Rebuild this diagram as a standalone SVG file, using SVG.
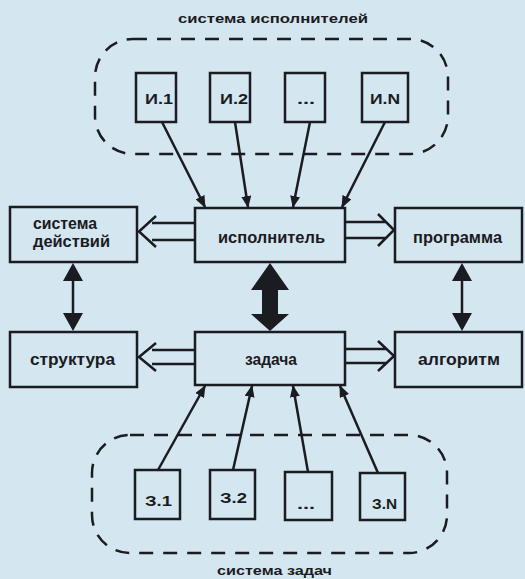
<svg xmlns="http://www.w3.org/2000/svg" width="525" height="579" viewBox="0 0 525 579">
<defs>
<style>
.bg{fill:#d4e6f0}
.box{fill:#d4e6f0;stroke:#1b1b22;stroke-width:2.5}
.grp{fill:none;stroke:#1b1b22;stroke-width:2.5;stroke-dasharray:14 10}
.t{font-family:"Liberation Sans",Arial,sans-serif;font-weight:bold;fill:#1b1b22;font-size:16px}
.s{font-family:"Liberation Sans",Arial,sans-serif;font-weight:bold;fill:#1b1b22;font-size:15px}
.lbl{font-family:"Liberation Sans",Arial,sans-serif;font-weight:bold;fill:#1b1b22;font-size:13px}
.ln{stroke:#1b1b22;stroke-width:2.5;fill:none}
.hol{stroke:#1b1b22;stroke-width:2.5;fill:none;stroke-linejoin:miter}
</style>
<marker id="ah" viewBox="0 0 12 10" refX="11" refY="5" markerWidth="12" markerHeight="10" markerUnits="userSpaceOnUse" orient="auto">
<path d="M0,0 L12,5 L0,10 z" fill="#1b1b22"/>
</marker>
</defs>
<rect class="bg" x="0" y="0" width="525" height="579"/>

<g id="group-performers">
<rect class="grp" x="95" y="39" width="353" height="115" rx="38" ry="38"/>
<text class="lbl" x="178" y="23" textLength="190" lengthAdjust="spacingAndGlyphs">система исполнителей</text>
</g>
<g id="group-tasks">
<rect class="grp" x="92" y="435" width="355" height="118" rx="38" ry="38"/>
<text class="lbl" x="217" y="575" textLength="115" lengthAdjust="spacingAndGlyphs">система задач</text>
</g>

<g id="I1"><rect class="box" x="136" y="73" width="40" height="49"/><text class="s" x="145" y="104" textLength="28" lengthAdjust="spacingAndGlyphs">И.1</text></g>
<g id="I2"><rect class="box" x="210" y="73" width="40" height="49"/><text class="s" x="220" y="104" textLength="28" lengthAdjust="spacingAndGlyphs">И.2</text></g>
<g id="Idots"><rect class="box" x="285" y="73" width="40" height="49"/><text class="s" x="297" y="104" textLength="18" lengthAdjust="spacingAndGlyphs">...</text></g>
<g id="IN"><rect class="box" x="362" y="73" width="46" height="49"/><text class="s" x="370" y="104" textLength="30" lengthAdjust="spacingAndGlyphs">И.N</text></g>

<g id="actions"><rect class="box" x="10" y="207" width="127" height="55"/>
<text class="t" x="33" y="229" textLength="64" lengthAdjust="spacingAndGlyphs">система</text><text class="t" x="33" y="247" textLength="77" lengthAdjust="spacingAndGlyphs">действий</text></g>
<g id="performer"><rect class="box" x="195" y="208" width="150" height="54"/><text class="t" x="218" y="243" textLength="107" lengthAdjust="spacingAndGlyphs">исполнитель</text></g>
<g id="program"><rect class="box" x="395" y="208" width="127" height="54"/><text class="t" x="413" y="243" textLength="89" lengthAdjust="spacingAndGlyphs">программа</text></g>
<g id="structure"><rect class="box" x="10" y="332" width="127" height="55"/><text class="t" x="30" y="365" textLength="85" lengthAdjust="spacingAndGlyphs">структура</text></g>
<g id="task"><rect class="box" x="195" y="332" width="150" height="53"/><text class="t" x="245" y="365" textLength="52" lengthAdjust="spacingAndGlyphs">задача</text></g>
<g id="algorithm"><rect class="box" x="395" y="332" width="127" height="55"/><text class="t" x="418" y="365" textLength="82" lengthAdjust="spacingAndGlyphs">алгоритм</text></g>

<g id="Z1"><rect class="box" x="135" y="470" width="45" height="49"/><text class="s" x="145" y="506" textLength="27" lengthAdjust="spacingAndGlyphs">З.1</text></g>
<g id="Z2"><rect class="box" x="210" y="470" width="45" height="49"/><text class="s" x="220" y="503" textLength="27" lengthAdjust="spacingAndGlyphs">З.2</text></g>
<g id="Zdots"><rect class="box" x="285" y="472" width="47" height="48"/><text class="s" x="297" y="509" textLength="18" lengthAdjust="spacingAndGlyphs">...</text></g>
<g id="ZN"><rect class="box" x="360" y="473" width="45" height="47"/><text class="s" x="372" y="509" textLength="25" lengthAdjust="spacingAndGlyphs">З.N</text></g>

<g id="connectors">
<line class="ln" x1="162" y1="122" x2="205" y2="207" marker-end="url(#ah)"/>
<line class="ln" x1="235" y1="122" x2="248" y2="207" marker-end="url(#ah)"/>
<line class="ln" x1="310" y1="122" x2="293" y2="207" marker-end="url(#ah)"/>
<line class="ln" x1="385" y1="122" x2="342" y2="207" marker-end="url(#ah)"/>

<line class="ln" x1="158" y1="470" x2="205" y2="386" marker-end="url(#ah)"/>
<line class="ln" x1="233" y1="470" x2="252" y2="386" marker-end="url(#ah)"/>
<line class="ln" x1="308" y1="472" x2="293" y2="386" marker-end="url(#ah)"/>
<line class="ln" x1="378" y1="473" x2="340" y2="386" marker-end="url(#ah)"/>

<path class="hol" d="M195,223 H152 M195,240 H152 M156,216 L139,231.5 L156,247"/>
<path class="hol" d="M345,222 H386 M345,238 H386 M378,214 L394,230 L378,246"/>
<path class="hol" d="M195,350 H152 M195,364 H152 M156,343 L139,357 L156,371"/>
<path class="hol" d="M345,349 H386 M345,363 H386 M378,341 L394,356 L378,371"/>

<path d="M270,263 L289,290 L278,290 L278,314 L289,314 L270,331 L251,314 L262,314 L262,290 L251,290 Z" fill="#1b1b22"/>

<line class="ln" x1="73" y1="280" x2="73" y2="314"/>
<path d="M73,263 L83,281 L63,281 Z M73,331 L83,313 L63,313 Z" fill="#1b1b22"/>
<line class="ln" x1="462" y1="280" x2="462" y2="314"/>
<path d="M462,263 L472,281 L452,281 Z M462,331 L472,313 L452,313 Z" fill="#1b1b22"/>
</g>
</svg>
